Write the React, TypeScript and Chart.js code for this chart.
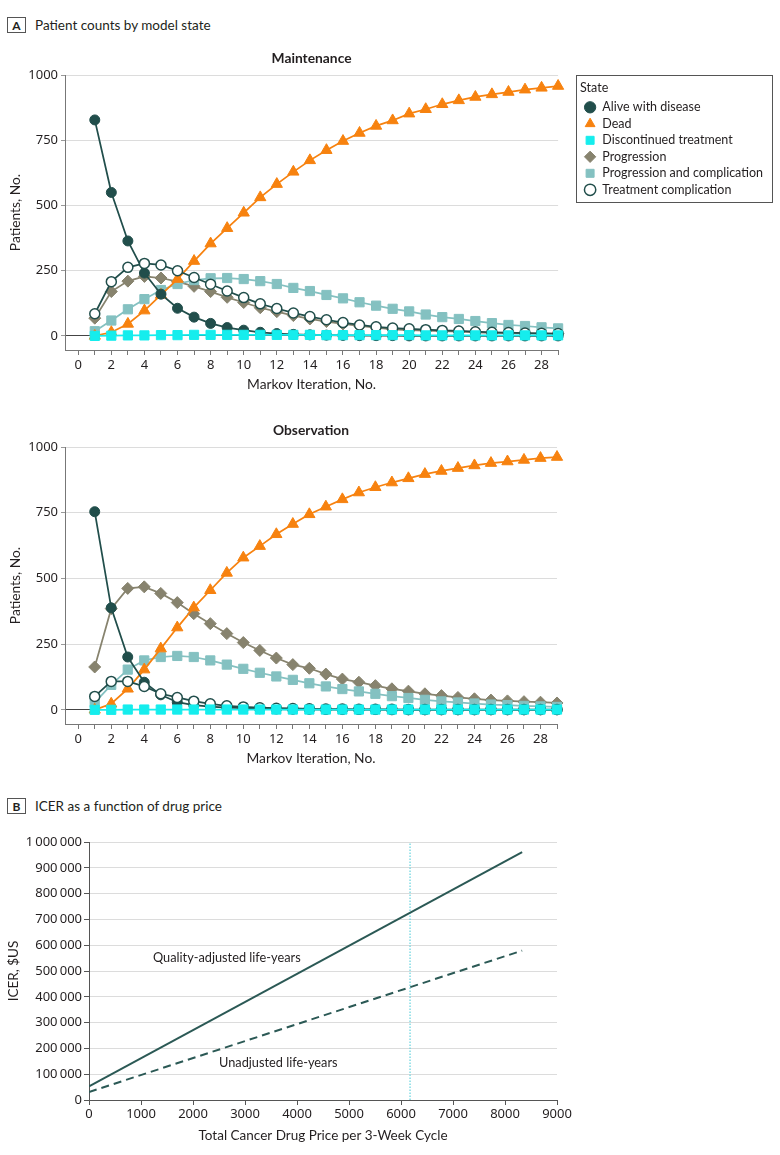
import React, { useEffect, useRef } from 'react';
import { Chart, registerables } from 'chart.js';

Chart.register(...registerables);

// ---------- data ----------
const iterations = [1, 2, 3, 4, 5, 6, 7, 8, 9, 10, 11, 12, 13, 14, 15, 16, 17, 18, 19, 20, 21, 22, 23, 24, 25, 26, 27, 28, 29];
const stateXTicks = [0, 1, 2, 3, 4, 5, 6, 7, 8, 9, 10, 11, 12, 13, 14, 15, 16, 17, 18, 19, 20, 21, 22, 23, 24, 25, 26, 27, 28, 29];
const stateYTicks = [0, 250, 500, 750, 1000];

const stateNames = [
  'Alive with disease',
  'Dead',
  'Discontinued treatment',
  'Progression',
  'Progression and complication',
  'Treatment complication',
];

// Maintenance panel
const maintAlive = [828, 550, 364, 241, 160, 106, 72, 48, 32, 22, 14, 9, 6, 4, 3, 2, 1, 1, 1, 0, 0, 0, 0, 0, 0, 0, 0, 0, 0];
const maintDead = [0, 14, 46, 97, 157, 218, 287, 354, 413, 472, 531, 582, 629, 673, 712, 747, 778, 805, 826, 852, 869, 888, 903, 916, 926, 935, 944, 951, 958];
const maintDiscontinued = [0, 1, 2, 2, 3, 3, 4, 4, 4, 4, 4, 4, 4, 4, 3, 3, 3, 3, 3, 3, 2, 2, 2, 2, 2, 2, 2, 2, 2];
const maintProgression = [68, 170, 210, 228, 222, 208, 190, 170, 148, 128, 108, 93, 78, 65, 55, 46, 38, 32, 25, 22, 20, 18, 16, 14, 12, 11, 10, 9, 8];
const maintProgComp = [18, 59, 102, 141, 176, 199, 214, 221, 222, 218, 210, 199, 184, 172, 157, 144, 129, 116, 104, 94, 82, 72, 65, 57, 49, 42, 38, 33, 29];
const maintTxComp = [85, 208, 263, 278, 272, 250, 224, 198, 172, 147, 123, 105, 88, 74, 62, 51, 42, 35, 30, 27, 24, 21, 19, 16, 14, 13, 11, 10, 9];

// Observation panel
const obsAlive = [754, 388, 201, 105, 57, 29, 18, 12, 8, 6, 4, 3, 2, 2, 1, 1, 1, 1, 0, 0, 0, 0, 0, 0, 0, 0, 0, 0, 0];
const obsDead = [0, 23, 80, 153, 233, 313, 389, 455, 521, 579, 623, 668, 707, 744, 773, 801, 827, 847, 865, 881, 897, 909, 920, 930, 939, 945, 951, 958, 962];
const obsDiscontinued = [0, 0, 1, 1, 1, 1, 1, 1, 1, 1, 1, 1, 1, 1, 1, 1, 1, 1, 1, 1, 1, 1, 1, 1, 1, 1, 1, 1, 1];
const obsProgression = [163, 385, 462, 468, 443, 408, 366, 328, 290, 256, 226, 197, 172, 158, 136, 117, 105, 92, 80, 71, 61, 54, 47, 42, 37, 34, 31, 29, 26];
const obsProgComp = [27, 95, 153, 188, 201, 205, 201, 188, 172, 156, 141, 127, 114, 101, 89, 79, 70, 61, 52, 45, 38, 32, 28, 24, 20, 18, 15, 13, 11];
const obsTxComp = [51, 108, 108, 89, 61, 47, 33, 23, 15, 11, 8, 6, 5, 4, 3, 3, 2, 2, 2, 1, 1, 1, 1, 1, 1, 1, 1, 1, 1];

const maintenanceSeries = [maintAlive, maintDead, maintDiscontinued, maintProgression, maintProgComp, maintTxComp];
const observationSeries = [obsAlive, obsDead, obsDiscontinued, obsProgression, obsProgComp, obsTxComp];

// Panel B
const priceEndpoints = [0, 8330];
const qalyIcer = [53000, 961000];
const lifeYearIcer = [31000, 579000];
const currentPrice = 6174;
const icerXTicks = [0, 1000, 2000, 3000, 4000, 5000, 6000, 7000, 8000, 9000];
const icerYTicks = [0, 100000, 200000, 300000, 400000, 500000, 600000, 700000, 800000, 900000, 1000000];
const icerLineLabels = ['Quality-adjusted life-years', 'Unadjusted life-years'];
const icerLabelPrice = [2650, 3640];
const icerLabelValue = [550000, 143000];

// ---------- styles ----------
const FONT = 'Lato, "Noto Sans", "DejaVu Sans", sans-serif';
const TICK_FONT = '"Noto Sans", "Open Sans", sans-serif';
const TEXT = '#231f20';
const DARK = '#214e4b';

const stateStyles = [
  { line: DARK, fill: DARK, shape: 'circle', r: 5, bw: 1, order: 2 },
  { line: '#f7820f', fill: '#f7820f', shape: 'triangle', r: 6.5, bw: 1, order: 3 },
  { line: '#15eded', fill: '#15eded', shape: 'rect', r: 6.5, bw: 1, order: 0 },
  { line: '#87836e', fill: '#87836e', shape: 'rectRot', r: 6, bw: 1, order: 5 },
  { line: '#84c1c1', fill: '#84c1c1', shape: 'rect', r: 6.5, bw: 1, order: 4 },
  { line: DARK, fill: '#ffffff', shape: 'circle', r: 5, bw: 1.5, order: 1 },
];

const legendBoxPlugin = {
  id: 'legendBox',
  afterDraw(chart: any) {
    const lg = chart.legend;
    if (!lg || !lg.options.display) return;
    const n = lg.legendItems ? lg.legendItems.length : 6;
    const ctx = chart.ctx;
    const left = Math.round(lg.left - 4) + 0.5;
    const top = Math.round(lg.top) + 0.5;
    const right = Math.round(lg.right - 1) + 0.5;
    const bottom = Math.round(lg.top + 22 + 4 + n * 16.5 - 4 + 6) + 0.5;
    ctx.save();
    ctx.strokeStyle = '#555';
    ctx.lineWidth = 1;
    ctx.strokeRect(left, top, right - left, bottom - top);
    ctx.restore();
  },
};

const setTicks = (values: number[]) => (s: any) => {
  s.ticks = values.map((v) => ({ value: v }));
};

function makeStateConfig(title: string, series: number[][], showLegend: boolean): any {
  const datasets = series.map((values, i) => {
    const st = stateStyles[i];
    return {
      label: stateNames[i],
      data: iterations.map((x, j) => ({ x, y: values[j] })),
      borderColor: st.line,
      backgroundColor: st.fill,
      borderWidth: 1.75,
      pointStyle: st.shape,
      pointRadius: st.r,
      pointBackgroundColor: st.fill,
      pointBorderColor: st.line,
      pointBorderWidth: st.bw,
      tension: 0,
      clip: false,
      order: st.order,
    };
  });
  const tickFont = { family: TICK_FONT, size: 13 };
  const titleFont = { family: FONT, size: 13.8 };
  const scales: any = {
    x: {
      type: 'linear',
      min: -0.8,
      max: 29,
      ticks: {
        autoSkip: false,
        maxRotation: 0,
        padding: 2,
        font: tickFont,
        color: TEXT,
        callback: (v: number) => (v % 2 === 0 ? String(v) : ''),
      },
      afterBuildTicks: setTicks(stateXTicks),
      grid: { drawOnChartArea: false, drawTicks: true, tickLength: 5, tickColor: '#777' },
      border: { display: true, color: '#777' },
      title: { display: true, text: 'Markov Iteration, No.', font: titleFont, color: TEXT, padding: { top: 0, bottom: 7 } },
      afterFit: (s: any) => {
        s.height = 50;
      },
    },
    y: {
      type: 'linear',
      min: -54,
      max: 1000,
      ticks: { padding: 3, font: tickFont, color: TEXT, callback: (v: number) => String(v) },
      afterBuildTicks: setTicks(stateYTicks),
      grid: {
        color: (c: any) => (c.tick && c.tick.value === 0 ? '#444' : '#dcdcdc'),
        tickColor: '#999',
        tickLength: 4,
      },
      border: { display: true, color: '#777' },
      title: { display: true, text: 'Patients, No.', font: titleFont, color: TEXT, padding: { top: 7, bottom: 0 } },
      afterFit: (s: any) => {
        s.width = 65;
      },
    },
  };
  if (showLegend) {
    scales.y2 = {
      type: 'linear',
      position: 'right',
      display: true,
      grid: { display: false, drawTicks: false },
      ticks: { display: false },
      border: { display: false },
      title: { display: false },
      afterFit: (s: any) => {
        s.width = 22;
      },
    };
  }
  return {
    type: 'line',
    data: { datasets },
    options: {
      animation: false,
      responsive: false,
      layout: { padding: { left: 0, right: showLegend ? 7 : 223, top: 0, bottom: 0 } },
      plugins: {
        title: {
          display: true,
          text: title,
          fullSize: false,
          color: TEXT,
          font: { family: FONT, size: 13.8, weight: 'bold' },
          padding: { top: 10, bottom: 8.5 },
        },
        legend: showLegend
          ? {
              display: true,
              position: 'right',
              align: 'start',
              fullSize: false,
              maxWidth: 320,
              labels: {
                usePointStyle: true,
                boxWidth: 12,
                boxHeight: 8,
                padding: 4,
                color: TEXT,
                font: { family: FONT, size: 12.5 },
                sort: (a: any, b: any) => a.datasetIndex - b.datasetIndex,
              },
              title: {
                display: true,
                text: 'State',
                position: 'start',
                color: TEXT,
                font: { family: FONT, size: 12.5 },
                padding: { top: 7, bottom: 0 },
              },
            }
          : { display: false },
        tooltip: { enabled: false },
      },
      scales,
    },
    plugins: showLegend ? [legendBoxPlugin] : [],
  };
}

const icerLabelsPlugin = {
  id: 'icerLabels',
  afterDatasetsDraw(chart: any) {
    const { ctx, scales } = chart;
    ctx.save();
    ctx.font = `12.75px ${FONT}`;
    ctx.fillStyle = TEXT;
    ctx.textAlign = 'center';
    ctx.textBaseline = 'middle';
    icerLineLabels.forEach((t, i) => {
      ctx.fillText(t, scales.x.getPixelForValue(icerLabelPrice[i]), scales.y.getPixelForValue(icerLabelValue[i]));
    });
    ctx.restore();
  },
};

function formatThousands(v: number): string {
  return String(v).replace(/\B(?=(\d{3})+(?!\d))/g, '\u2009');
}

function makeIcerConfig(): any {
  const tickFont = { family: TICK_FONT, size: 13 };
  const titleFont = { family: FONT, size: 13.5 };
  return {
    type: 'line',
    data: {
      datasets: [
        {
          label: icerLineLabels[0],
          data: priceEndpoints.map((p, i) => ({ x: p, y: qalyIcer[i] })),
          borderColor: '#2b5955',
          borderWidth: 2,
          pointRadius: 0,
          fill: false,
        },
        {
          label: icerLineLabels[1],
          data: priceEndpoints.map((p, i) => ({ x: p, y: lifeYearIcer[i] })),
          borderColor: '#2b5955',
          borderWidth: 2,
          borderDash: [8, 5],
          pointRadius: 0,
          fill: false,
        },
        {
          label: 'Current price',
          data: [
            { x: currentPrice, y: 0 },
            { x: currentPrice, y: 1000000 },
          ],
          borderColor: '#63d3dd',
          borderWidth: 1.2,
          borderDash: [1.5, 1.5],
          pointRadius: 0,
          fill: false,
        },
      ],
    },
    options: {
      animation: false,
      responsive: false,
      layout: { padding: { left: 0, right: 223, top: 22, bottom: 0 } },
      plugins: { legend: { display: false }, tooltip: { enabled: false }, title: { display: false } },
      scales: {
        x: {
          type: 'linear',
          min: 0,
          max: 9000,
          ticks: { autoSkip: false, maxRotation: 0, padding: 1, font: tickFont, color: TEXT, callback: (v: number) => String(v) },
          afterBuildTicks: setTicks(icerXTicks),
          grid: { drawOnChartArea: false, drawTicks: true, tickLength: 5, tickColor: '#555' },
          border: { display: true, color: '#555' },
          title: {
            display: true,
            text: 'Total Cancer Drug Price per 3-Week Cycle',
            font: titleFont,
            color: TEXT,
            padding: { top: 0, bottom: 6 },
          },
          afterFit: (s: any) => {
            s.height = 50;
          },
        },
        y: {
          type: 'linear',
          min: 0,
          max: 1000000,
          ticks: { padding: 2, font: tickFont, color: TEXT, callback: (v: number) => formatThousands(v) },
          afterBuildTicks: setTicks(icerYTicks),
          grid: {
            color: (c: any) => (c.tick && c.tick.value === 0 ? 'rgba(0,0,0,0)' : '#dcdcdc'),
            tickColor: '#555',
            tickLength: 5,
          },
          border: { display: true, color: '#555' },
          title: { display: true, text: 'ICER, $US', font: titleFont, color: TEXT, padding: { top: 6, bottom: 0 } },
          afterFit: (s: any) => {
            s.width = 89;
          },
        },
      },
    },
    plugins: [icerLabelsPlugin],
  };
}

function PanelHeader({ letter, text, top }: { letter: string; text: string; top: number }) {
  return (
    <div style={{ position: 'absolute', left: 7, top, height: 16, display: 'flex', alignItems: 'center', fontFamily: FONT, color: TEXT }}>
      <span
        style={{
          display: 'inline-flex',
          width: 17,
          height: 14,
          border: '1px solid #555',
          alignItems: 'center',
          justifyContent: 'center',
          fontWeight: 700,
          fontSize: 12,
        }}
      >
        {letter}
      </span>
      <span style={{ marginLeft: 9, fontSize: 13.5, whiteSpace: 'nowrap' }}>{text}</span>
    </div>
  );
}

export default function App() {
  const refA1 = useRef<HTMLCanvasElement>(null);
  const refA2 = useRef<HTMLCanvasElement>(null);
  const refB = useRef<HTMLCanvasElement>(null);

  useEffect(() => {
    const charts = [
      new Chart(refA1.current as HTMLCanvasElement, makeStateConfig('Maintenance', maintenanceSeries, true)),
      new Chart(refA2.current as HTMLCanvasElement, makeStateConfig('Observation', observationSeries, false)),
      new Chart(refB.current as HTMLCanvasElement, makeIcerConfig()),
    ];
    return () => charts.forEach((c) => c.destroy());
  }, []);

  return (
    <div style={{ position: 'absolute', left: 0, top: 0, width: 780, height: 1155, background: '#fff', overflow: 'hidden' }}>
      <PanelHeader letter="A" text="Patient counts by model state" top={17} />
      <canvas ref={refA1} width={780} height={360} style={{ position: 'absolute', left: 0, top: 40 }} />
      <canvas ref={refA2} width={780} height={362} style={{ position: 'absolute', left: 0, top: 412 }} />
      <PanelHeader letter="B" text="ICER as a function of drug price" top={798} />
      <canvas ref={refB} width={780} height={330} style={{ position: 'absolute', left: 0, top: 820 }} />
    </div>
  );
}
